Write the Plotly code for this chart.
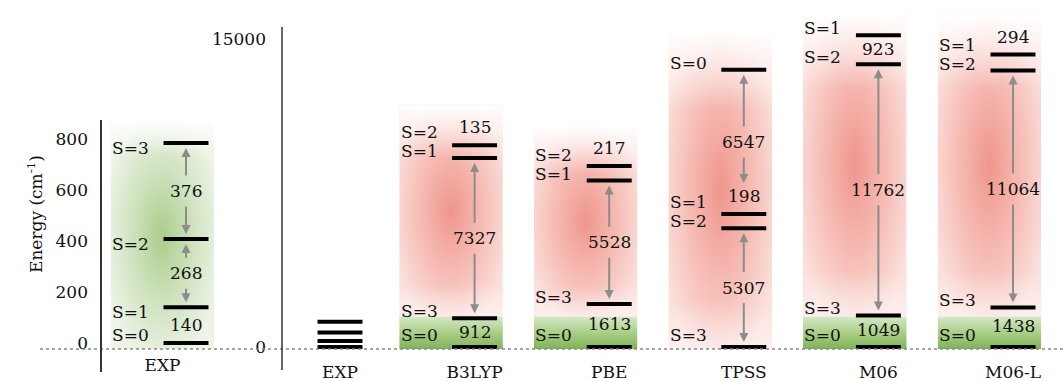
import base64
import plotly.graph_objects as go

# Spin-ladder energies (cm^-1) for S = 0..3, relative to the lowest state
spin_labels = ["S=0", "S=1", "S=2", "S=3"]
exp_levels = [0, 140, 408, 784]
b3lyp_levels = [0, 8239, 8374, 912]
pbe_levels = [0, 7141, 7358, 1613]
tpss_levels = [12052, 5505, 5307, 0]
m06_levels = [0, 13734, 12811, 1049]
m06l_levels = [0, 12796, 12502, 1438]

methods = ["EXP", "B3LYP", "PBE", "TPSS", "M06", "M06-L"]
method_levels = [exp_levels, b3lyp_levels, pbe_levels, tpss_levels,
                 m06_levels, m06l_levels]

inset_ticks = [0, 200, 400, 600, 800]
main_ticks = [0, 15000]

# ---------------------------------------------------------------- geometry
W, H = 1064, 381
FONT = "DejaVu Serif, Liberation Serif, Noto Serif, serif"
FS = 17
INK = "#111111"
ARROW = "rgb(140,140,140)"

COL_PX = 134.6            # pixels between neighbouring columns
HALF_LINE = 0.167         # half width of a level bar (column units)
BG_L, BG_R = -0.56, 0.21  # background strip extent around a column
BASELINE = 349            # pixel row of the dotted baseline
ABOVE_SHIFT = 18          # px a small splitting label sits above its bar

# inset (experiment, 0-800 cm-1)
IN = dict(xa="x", ya="y", dom_x=(101, 250), dom_y=(110, 372),
          col0=186, zero=343, scale=0.255, step=0, lift=-5,
          arrow_min=30)
# main panel (all methods, 0-15000 cm-1)
MAIN = dict(xa="x2", ya="y2", dom_x=(282, 1064), dom_y=(0, 370),
            col0=340, zero=347, scale=0.0205, step=490, lift=7,
            arrow_min=60)
MINI_STEP = 150           # level spreading for the small EXP ladder
GROUND_BAND = 1500        # height of the ground-state band (display units)


def paper_x(px):
    return px / W


def paper_y(px):
    return (H - px) / H


def axis_ranges(p):
    xr = [(p["dom_x"][0] - p["col0"]) / COL_PX,
          (p["dom_x"][1] - p["col0"]) / COL_PX]
    yr = [-(p["dom_y"][1] - p["zero"]) / p["scale"],
          (p["zero"] - p["dom_y"][0]) / p["scale"]]
    return xr, yr


def to_px(p, v):
    return p["zero"] - v * p["scale"]


def from_px(p, px):
    return (p["zero"] - px) / p["scale"]


def svg_uri(body):
    svg = ('<svg xmlns="http://www.w3.org/2000/svg" width="100" height="100" '
           'viewBox="0 0 100 100" preserveAspectRatio="none">' + body + '</svg>')
    return "data:image/svg+xml;base64," + base64.b64encode(svg.encode()).decode()


PINK = svg_uri(
    '<defs><radialGradient id="g" cx="50%" cy="50%" r="58%">'
    '<stop offset="0" stop-color="rgb(239,150,140)"/>'
    '<stop offset="0.55" stop-color="rgb(246,190,182)"/>'
    '<stop offset="1" stop-color="rgb(251,224,220)"/></radialGradient>'
    '<linearGradient id="f" x1="0" y1="0" x2="0" y2="1">'
    '<stop offset="0" stop-color="#fff" stop-opacity="1"/>'
    '<stop offset="0.25" stop-color="#fff" stop-opacity="0"/>'
    '<stop offset="0.85" stop-color="#fff" stop-opacity="0"/>'
    '<stop offset="1" stop-color="#fff" stop-opacity="0.5"/></linearGradient></defs>'
    '<rect width="100" height="100" fill="url(#g)"/>'
    '<rect width="100" height="100" fill="url(#f)"/>')

GREEN_GLOW = svg_uri(
    '<defs><radialGradient id="g" cx="50%" cy="50%" r="58%">'
    '<stop offset="0" stop-color="rgb(172,205,140)"/>'
    '<stop offset="0.55" stop-color="rgb(210,228,194)"/>'
    '<stop offset="1" stop-color="rgb(237,244,231)"/></radialGradient>'
    '<linearGradient id="f" x1="0" y1="0" x2="0" y2="1">'
    '<stop offset="0" stop-color="#fff" stop-opacity="0.9"/>'
    '<stop offset="0.15" stop-color="#fff" stop-opacity="0"/></linearGradient></defs>'
    '<rect width="100" height="100" fill="url(#g)"/>'
    '<rect width="100" height="100" fill="url(#f)"/>')

GREEN_BAND = svg_uri(
    '<defs><linearGradient id="b" x1="0" y1="0" x2="0" y2="1">'
    '<stop offset="0" stop-color="rgb(214,232,200)"/>'
    '<stop offset="0.5" stop-color="rgb(170,207,135)"/>'
    '<stop offset="1" stop-color="rgb(128,178,88)"/></linearGradient></defs>'
    '<rect width="100" height="100" fill="url(#b)"/>')


def display_levels(levels, step):
    """Spread the ladder by a fixed step per rung so close levels stay legible."""
    order = sorted(range(len(levels)), key=lambda i: levels[i])
    disp = [0.0] * len(levels)
    for rank, i in enumerate(order):
        disp[i] = levels[i] + rank * step
    return order, disp


fig = go.Figure()
annotations = []
images = []


def txt_font(color=INK):
    return dict(family=FONT, size=FS, color=color)


def add_image(src, p, x0, x1, y0, y1):
    images.append(dict(source=src, xref=p["xa"], yref=p["ya"], x=x0, y=y1,
                       sizex=x1 - x0, sizey=y1 - y0, xanchor="left",
                       yanchor="top", sizing="stretch", layer="below"))


def draw_ladder(p, xc, levels, step, labelled=True):
    order, disp = display_levels(levels, step)

    xs, ys = [], []
    for i in order:
        xs += [xc - HALF_LINE, xc + HALF_LINE, None]
        ys += [disp[i], disp[i], None]
    fig.add_trace(go.Scatter(x=xs, y=ys, mode="lines", xaxis=p["xa"],
                             yaxis=p["ya"], line=dict(color="black", width=4),
                             hoverinfo="skip", showlegend=False))
    if not labelled:
        return disp

    # spin labels to the left of the bars, pushed apart bottom-up
    prev = None
    for i in order:
        line_px = to_px(p, disp[i])
        lab_px = min(line_px - p["lift"], BASELINE - 14)
        if prev is not None:
            lab_px = min(lab_px, prev - 19)
        prev = lab_px
        annotations.append(dict(x=xc - 0.26, y=disp[i], xref=p["xa"], yref=p["ya"],
                                text=spin_labels[i], showarrow=False,
                                xanchor="right", yanchor="middle",
                                yshift=line_px - lab_px, font=txt_font()))

    # splittings between neighbouring rungs: arrow, inline, or above the bar
    pairs = list(zip(order[:-1], order[1:]))
    styles = []
    for lo, hi in pairs:
        gap_px = (disp[hi] - disp[lo]) * p["scale"]
        styles.append("arrow" if gap_px >= p["arrow_min"]
                      else "mid" if gap_px >= 22 else "above")

    for n, ((lo, hi), style) in enumerate(zip(pairs, styles)):
        txt = str(levels[hi] - levels[lo])
        mid = (disp[hi] + disp[lo]) / 2
        if style == "arrow":
            low_end = disp[lo]
            if n > 0 and styles[n - 1] == "above":
                # stop short of the small-splitting label sitting on this bar
                low_end = disp[lo] + (ABOVE_SHIFT + 8) / p["scale"]
            for end, colr in ((disp[hi], INK), (low_end, "rgba(0,0,0,0)")):
                annotations.append(dict(
                    x=xc, y=end, ax=xc, ay=mid, xref=p["xa"], yref=p["ya"],
                    axref=p["xa"], ayref=p["ya"], text=txt, showarrow=True,
                    arrowhead=2, arrowsize=0.9, arrowwidth=2, arrowcolor=ARROW,
                    standoff=5, startstandoff=4, font=txt_font(colr)))
        elif style == "mid":
            annotations.append(dict(x=xc, y=mid, xref=p["xa"], yref=p["ya"],
                                    text=txt, showarrow=False, yshift=1,
                                    font=txt_font()))
        else:
            annotations.append(dict(x=xc, y=disp[hi], xref=p["xa"], yref=p["ya"],
                                    text=txt, showarrow=False, yshift=ABOVE_SHIFT,
                                    font=txt_font()))
    return disp


# ---- inset: experimental ladder on its own scale
_, disp = display_levels(exp_levels, 0)
add_image(GREEN_GLOW, IN, BG_L, BG_R, from_px(IN, BASELINE), max(disp) + 80)
draw_ladder(IN, 0, exp_levels, 0)

# ---- main panel: every method on the common scale
exp_ground = spin_labels[exp_levels.index(min(exp_levels))]
for k, (name, levels) in enumerate(zip(methods, method_levels)):
    if name == "EXP":
        draw_ladder(MAIN, k, levels, MINI_STEP, labelled=False)
        continue
    _, disp = display_levels(levels, MAIN["step"])
    ground = spin_labels[levels.index(min(levels))]
    bottom = from_px(MAIN, BASELINE)
    top = min(max(disp) + 2000, from_px(MAIN, 12))
    if ground == exp_ground:
        add_image(GREEN_BAND, MAIN, k + BG_L, k + BG_R, bottom, GROUND_BAND)
        add_image(PINK, MAIN, k + BG_L, k + BG_R, GROUND_BAND, top)
    else:
        add_image(PINK, MAIN, k + BG_L, k + BG_R, bottom, top)
    draw_ladder(MAIN, k, levels, MAIN["step"])

annotations.append(dict(x=paper_x(22), y=paper_y(214), xref="paper", yref="paper",
                        text="Energy (cm<sup>-1</sup>)", textangle=-90,
                        showarrow=False, font=txt_font()))

in_xr, in_yr = axis_ranges(IN)
mn_xr, mn_yr = axis_ranges(MAIN)
tick_font = txt_font()

fig.update_layout(
    width=W, height=H, autosize=False,
    margin=dict(l=0, r=0, t=0, b=0),
    paper_bgcolor="white", plot_bgcolor="rgba(0,0,0,0)",
    showlegend=False,
    font=dict(family=FONT, size=FS, color=INK),
    xaxis=dict(domain=[paper_x(IN["dom_x"][0]), paper_x(IN["dom_x"][1])],
               range=in_xr, anchor="free", position=paper_y(BASELINE),
               showgrid=False, zeroline=False, showline=False, ticks="",
               tickvals=[(BG_L + BG_R) / 2], ticktext=["EXP"],
               tickfont=tick_font, ticklabelstandoff=4),
    yaxis=dict(domain=[paper_y(IN["dom_y"][1]), paper_y(IN["dom_y"][0])],
               range=in_yr, anchor="x", showgrid=False, zeroline=False,
               showline=False, ticks="", tickvals=inset_ticks,
               tickfont=tick_font, ticklabelstandoff=12),
    xaxis2=dict(domain=[paper_x(MAIN["dom_x"][0]), paper_x(MAIN["dom_x"][1])],
                range=mn_xr, anchor="free", position=paper_y(BASELINE),
                showgrid=False, zeroline=False, showline=False, ticks="",
                tickvals=list(range(len(methods))), ticktext=methods,
                tickfont=tick_font, ticklabelstandoff=11),
    yaxis2=dict(domain=[paper_y(MAIN["dom_y"][1]), paper_y(MAIN["dom_y"][0])],
                range=mn_yr, anchor="x2", showgrid=False, zeroline=False,
                showline=False, ticks="", tickvals=main_ticks, tickformat="d",
                tickfont=tick_font, ticklabelstandoff=15),
    annotations=annotations,
    images=images,
    shapes=[
        dict(type="line", xref="paper", yref="paper",
             x0=paper_x(40), x1=1, y0=paper_y(BASELINE), y1=paper_y(BASELINE),
             line=dict(color="#888888", width=1.5, dash="dot")),
        dict(type="line", xref="paper", yref="paper",
             x0=paper_x(101), x1=paper_x(101), y0=paper_y(120), y1=paper_y(372),
             line=dict(color="#333333", width=2)),
        dict(type="line", xref="paper", yref="paper",
             x0=paper_x(282), x1=paper_x(282), y0=paper_y(27), y1=paper_y(370),
             line=dict(color="#333333", width=1.5)),
    ],
)

fig.write_html("out.html")
